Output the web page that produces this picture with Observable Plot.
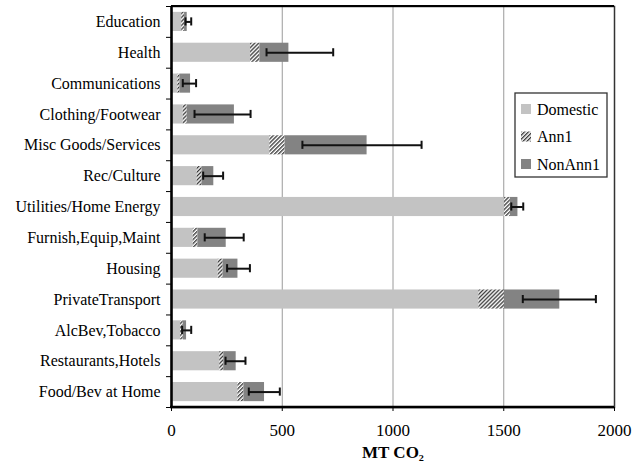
<!DOCTYPE html>
<html><head><meta charset="utf-8">
<script src="https://cdn.jsdelivr.net/npm/d3@7"></script>
<script src="https://cdn.jsdelivr.net/npm/@observablehq/plot@0.6"></script>
<style>
body{margin:0;background:#fff;}
#chart{width:642px;height:465px;}
</style></head>
<body><div id="chart"></div>
<script>
const categories = ["Education","Health","Communications","Clothing/Footwear","Misc Goods/Services","Rec/Culture","Utilities/Home Energy","Furnish,Equip,Maint","Housing","PrivateTransport","AlcBev,Tobacco","Restaurants,Hotels","Food/Bev at Home"];
const domestic = [46, 357, 29, 53, 444, 116, 1503, 98, 211, 1388, 41, 218, 300];
const ann1     = [13, 42, 9, 18, 69, 22, 27, 21, 22, 115, 12, 18, 27];
const nonAnn1  = [12, 131, 48, 213, 370, 53, 34, 128, 67, 250, 15, 56, 93];
const errLow   = [63, 429, 51, 104, 591, 143, 1534, 150, 251, 1586, 48, 244, 349];
const errHigh  = [89, 730, 111, 357, 1129, 233, 1588, 326, 354, 1916, 89, 334, 489];
const xTicks = [0, 500, 1000, 1500, 2000];
const gridValues = [500, 1000, 1500];
const seriesNames = ["Domestic", "Ann1", "NonAnn1"];
const seriesFills = ["#c3c3c3", "url(#hatch)", "#838383"];

const rows = categories.map((c, i) => ({
  cat: c, d: domestic[i], a: ann1[i], n: nonAnn1[i], lo: errLow[i], hi: errHigh[i]
}));

const W = 642, H = 465, mL = 171, mR = 28, mT = 6, mB = 58;
const step = (H - mT - mB) / categories.length;
const font = "'Liberation Serif','Times New Roman',serif";

const svg = Plot.plot({
  width: W, height: H,
  marginLeft: mL, marginRight: mR, marginTop: mT, marginBottom: mB,
  style: {fontFamily: font, fontSize: "16px", color: "#000", background: "#fff"},
  x: {domain: [0, 2000]},
  y: {domain: categories, paddingInner: 0.38, paddingOuter: 0.19, round: false},
  marks: [
    Plot.ruleX(gridValues, {stroke: "#9a9a9a", strokeWidth: 1}),
    Plot.barX(rows, {y: "cat", x1: 0, x2: d => d.d, fill: seriesFills[0]}),
    Plot.barX(rows, {y: "cat", x1: d => d.d, x2: d => d.d + d.a, fill: seriesFills[1]}),
    Plot.barX(rows, {y: "cat", x1: d => d.d + d.a, x2: d => d.d + d.a + d.n, fill: seriesFills[2]}),
    Plot.ruleY(rows, {y: "cat", x1: "lo", x2: "hi", stroke: "#111", strokeWidth: 2}),
    Plot.tickX(rows, {y: "cat", x: "lo", stroke: "#111", strokeWidth: 2, insetTop: 5.5, insetBottom: 5.5}),
    Plot.tickX(rows, {y: "cat", x: "hi", stroke: "#111", strokeWidth: 2, insetTop: 5.5, insetBottom: 5.5}),
    Plot.frame({stroke: "#333", strokeWidth: 1.5}),
    Plot.ruleX([0], {stroke: "#000", strokeWidth: 2.5}),
    Plot.axisX({ticks: xTicks, tickSize: 4, tickPadding: 12, tickFormat: d => String(d), label: null, fontSize: 17}),
    Plot.axisY({tickSize: 0, tickPadding: 11, label: null, fontSize: 16}),
    Plot.axisY({text: null, tickSize: 5, dy: -step / 2, label: null}),
    Plot.axisY({ticks: [categories[categories.length - 1]], text: null, tickSize: 5, dy: step / 2, label: null}),
    Plot.text(["MT CO\u2082"], {frameAnchor: "bottom", dy: 50, fontWeight: "bold", fontSize: 17, fill: "#000"})
  ]
});

const s = d3.select(svg);
const defs = s.insert("defs", ":first-child");
const pat = defs.append("pattern").attr("id", "hatch").attr("patternUnits", "userSpaceOnUse")
  .attr("width", 2.8).attr("height", 2.8).attr("patternTransform", "rotate(45)");
pat.append("rect").attr("width", 2.8).attr("height", 2.8).attr("fill", "#fff");
pat.append("rect").attr("width", 1.3).attr("height", 2.8).attr("fill", "#333");

s.append("line").attr("x1", mL - 1).attr("x2", W - mR).attr("y1", H - mB).attr("y2", H - mB)
  .attr("stroke", "#000").attr("stroke-width", 2.5);
s.append("line").attr("x1", mL).attr("x2", W - mR).attr("y1", mT).attr("y2", mT)
  .attr("stroke", "#000").attr("stroke-width", 2);

// legend
const lg = s.append("g").attr("transform", "translate(515,93)");
lg.append("rect").attr("width", 92).attr("height", 84).attr("fill", "#fff").attr("stroke", "#333").attr("stroke-width", 1.3);
seriesNames.forEach((name, i) => {
  const yy = 16 + i * 27.5;
  lg.append("rect").attr("x", 6).attr("y", yy - 5).attr("width", 10).attr("height", 10).attr("fill", seriesFills[i]);
  lg.append("text").attr("x", 22).attr("y", yy).attr("dy", "0.35em").attr("font-family", font)
    .attr("text-anchor", "start").attr("font-size", 16).attr("fill", "#000").text(name);
});

document.getElementById("chart").appendChild(svg);
</script>
</body></html>
